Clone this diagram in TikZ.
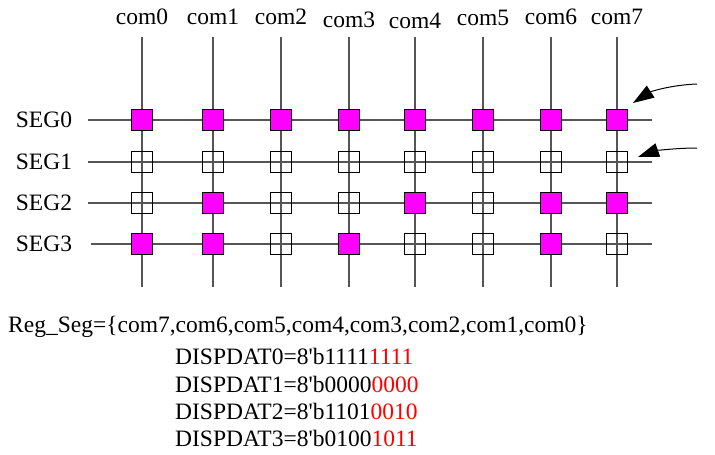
\documentclass[tikz,border=0pt]{standalone}
\usepackage{fontspec}
\setmainfont{Liberation Serif}
\usetikzlibrary{arrows.meta}
\definecolor{seg}{HTML}{FF00FF}
\definecolor{wire}{HTML}{555555}
\begin{document}
\begin{tikzpicture}[x=1pt,y=-1pt,
  wireline/.style={draw=wire,line width=1.2pt},
  cell/.style={draw=black,line width=0.9pt,minimum size=21pt,inner sep=0pt,outer sep=0pt},
  on/.style={cell,fill=seg},
  off/.style={cell,fill=none},
  lbl/.style={font=\fontsize{23.5}{28}\selectfont,inner sep=0pt},
  arr/.style={line width=1pt,-{Triangle[length=21pt,width=14pt]}}]
\useasboundingbox (0,0) rectangle (715,455);
% column positions
\def\cx{{142,213,281,349,415,483,551,617}}
% vertical wires and com labels
\foreach \i/\x/\ly in {0/142/17,1/213/17,2/281/17,3/349/20,4/415/21,5/483/18,6/551/17,7/617/17}{
  \coordinate (vt\i) at (\x,37);
  \coordinate (vb\i) at (\x,287);
  \draw[wireline] (vt\i) -- (vb\i);
  \node[lbl] (com\i) at (\x,\ly) {com\i};
}
% horizontal wires and SEG labels
\foreach \j/\y/\xs in {0/120/88,1/162/88,2/203/88,3/244/91}{
  \coordinate (hl\j) at (\xs,\y);
  \coordinate (hr\j) at (652,\y);
  \draw[wireline] (hl\j) -- (hr\j);
  \node[lbl] (seg\j) at (44,\y) {SEG\j};
}
% cells: bits com0..com7
\foreach \j/\y/\bits in {0/120/{1,1,1,1,1,1,1,1},1/162/{0,0,0,0,0,0,0,0},2/203/{0,1,0,0,1,0,1,1},3/244/{1,1,0,1,0,0,1,0}}{
  \foreach \b [count=\k from 0] in \bits {
    \pgfmathsetmacro{\xx}{\cx[\k]}
    \ifnum\b=1
      \node[on] (c\j\k) at (\xx,\y) {};
    \else
      \node[off] (c\j\k) at (\xx,\y) {};
    \fi
  }
}
% arrows
\coordinate (a1) at (697,84);
\coordinate (t1) at (633,103);
\coordinate (a2) at (697,148);
\coordinate (t2) at (638,157);
\draw[arr] (a1) .. controls (670,85) and (650,92) .. (t1);
\draw[arr] (a2) .. controls (675,148) and (655,151) .. (t2);
% register text
\node[lbl,anchor=west] (reg) at (8,327) {Reg\_Seg=\{com7,com6,com5,com4,com3,com2,com1,com0\}};
\node[lbl,anchor=west] (d0) at (175,356) {DISPDAT0=8\textquotesingle b1111\textcolor{red}{1111}};
\node[lbl,anchor=west] (d1) at (175,384) {DISPDAT1=8\textquotesingle b0000\textcolor{red}{0000}};
\node[lbl,anchor=west] (d2) at (175,411) {DISPDAT2=8\textquotesingle b1101\textcolor{red}{0010}};
\node[lbl,anchor=west] (d3) at (175,438) {DISPDAT3=8\textquotesingle b0100\textcolor{red}{1011}};
\end{tikzpicture}
\end{document}
